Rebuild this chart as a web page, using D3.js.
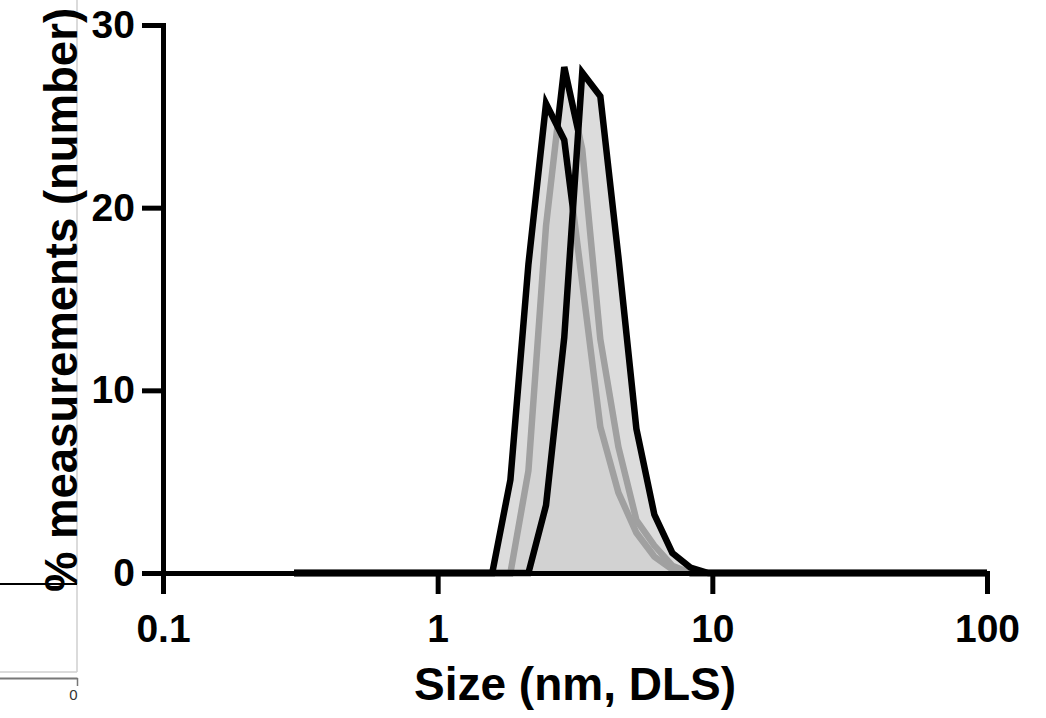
<!DOCTYPE html>
<html>
<head>
<meta charset="utf-8">
<script src="https://cdn.jsdelivr.net/npm/d3@7"></script>
<style>
  body { margin: 0; background: #fff; }
  svg { display: block; }
  text { font-family: "Liberation Sans", Arial, Helvetica, sans-serif; }
</style>
</head>
<body>
<div id="chart"></div>
<script>
// size bins (nm) shared by all three DLS runs
const sizes = [0.3, 1.36, 1.58, 1.84, 2.14, 2.48, 2.89, 3.36, 3.91, 4.55, 5.29, 6.15, 7.15, 8.32, 9.67, 11.25, 100];
// % measurements (number), drawn in this order
const runB = [0, 0, 0, 0, 5.6, 19.0, 27.7, 23.2, 12.8, 6.9, 2.9, 1.5, 0.4, 0, 0, 0, 0];
const runA = [0, 0, 0, 5.1, 16.9, 25.7, 23.7, 15.9, 8.0, 4.4, 2.2, 0.9, 0.2, 0, 0, 0, 0];
const runC = [0, 0, 0, 0, 0, 3.7, 12.9, 27.4, 26.1, 17.3, 7.9, 3.2, 1.1, 0.3, 0, 0, 0];
const xTicks = [0.1, 1, 10, 100];
const yTicks = [0, 10, 20, 30];

const width = 1046, height = 718;
const plot = { left: 163, right: 987, top: 25, bottom: 573 };

const svg = d3.select('#chart')
  .append('svg')
  .attr('width', width)
  .attr('height', height);

// leftover edge of the neighbouring panel
const side = svg.append('g');
side.append('line')
  .attr('x1', 77).attr('x2', 77).attr('y1', 0).attr('y2', 672)
  .attr('stroke', '#cfcfcf').attr('stroke-width', 1.5);
side.append('line')
  .attr('x1', 0).attr('x2', 77).attr('y1', 672).attr('y2', 672)
  .attr('stroke', '#cfcfcf').attr('stroke-width', 1.5);
side.append('line')
  .attr('x1', 0).attr('x2', 77).attr('y1', 584).attr('y2', 584)
  .attr('stroke', '#000').attr('stroke-width', 2);
const sideX = d3.scaleLinear().domain([-1, 0]).range([-200, 77]);
side.append('g')
  .attr('transform', 'translate(0,678)')
  .call(d3.axisBottom(sideX).tickValues([0]).tickFormat(d => String(d)).tickSize(8).tickSizeOuter(0))
  .call(g => g.select('.domain').attr('stroke', '#777').attr('stroke-width', 2))
  .call(g => g.selectAll('.tick line').attr('stroke', '#777').attr('stroke-width', 1.5))
  .call(g => g.selectAll('.tick text').attr('font-size', 15).attr('fill', '#333').attr('x', -4));

const x = d3.scaleLog().domain([0.1, 100]).range([plot.left, plot.right]);
const y = d3.scaleLinear().domain([0, 30]).range([plot.bottom, plot.top]);

// 곡선
const area = d3.area()
  .x((d, i) => x(sizes[i]))
  .y0(y(0))
  .y1(d => y(d));
const line = d3.line()
  .x((d, i) => x(sizes[i]))
  .y(d => y(d));

const runs = svg.append('g');
[runB, runA, runC].forEach(run => {
  runs.append('path')
    .datum(run)
    .attr('d', area)
    .attr('fill', 'rgb(209,209,209)')
    .attr('fill-opacity', 0.765);
  runs.append('path')
    .datum(run)
    .attr('d', line)
    .attr('fill', 'none')
    .attr('stroke', '#000')
    .attr('stroke-width', 6.5);
});

// 축
const xAxis = svg.append('g')
  .attr('transform', `translate(0,${plot.bottom})`)
  .call(d3.axisBottom(x).tickValues(xTicks).tickFormat(d => String(d))
    .tickSize(21).tickSizeOuter(0).tickPadding(20));
const yAxis = svg.append('g')
  .attr('transform', `translate(${plot.left},0)`)
  .call(d3.axisLeft(y).tickValues(yTicks).tickFormat(d => String(d))
    .tickSize(21).tickSizeOuter(0).tickPadding(7));

[xAxis, yAxis].forEach(g => {
  g.select('.domain').attr('stroke', '#000').attr('stroke-width', 5).attr('stroke-linecap', 'square');
  g.selectAll('.tick line').attr('stroke', '#000').attr('stroke-width', 5);
  g.selectAll('.tick text')
    .attr('fill', '#000')
    .attr('font-size', 39)
    .attr('font-weight', 'bold');
});

svg.append('text')
  .attr('x', (plot.left + plot.right) / 2)
  .attr('y', 700)
  .attr('text-anchor', 'middle')
  .attr('font-size', 46)
  .attr('font-weight', 'bold')
  .text('Size (nm, DLS)');

svg.append('text')
  .attr('transform', `translate(77,${(plot.top + plot.bottom) / 2 + 1}) rotate(-90)`)
  .attr('text-anchor', 'middle')
  .attr('font-size', 45.5)
  .attr('font-weight', 'bold')
  .text('% measurements (number)');
</script>
</body>
</html>
